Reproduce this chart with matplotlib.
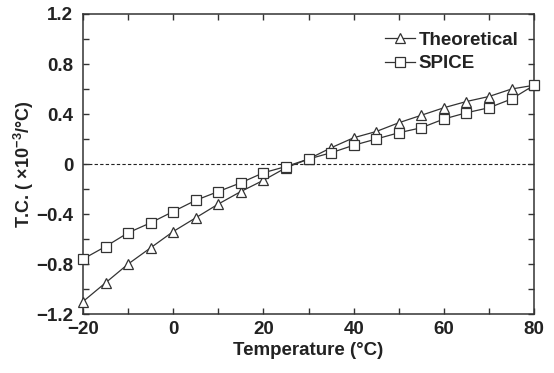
import numpy as np
import matplotlib
matplotlib.use('Agg')
import matplotlib.pyplot as plt
from matplotlib.ticker import MultipleLocator, FuncFormatter

temperature = [-20, -15, -10, -5, 0, 5, 10, 15, 20, 25, 30, 35, 40, 45, 50, 55, 60, 65, 70, 75, 80]
theoretical = [-1.10, -0.95, -0.80, -0.67, -0.54, -0.43, -0.32, -0.22, -0.13, -0.03, 0.04, 0.13,
               0.21, 0.26, 0.33, 0.39, 0.45, 0.50, 0.54, 0.60, 0.63]
spice = [-0.76, -0.66, -0.55, -0.47, -0.38, -0.29, -0.22, -0.15, -0.07, -0.02, 0.04, 0.09,
         0.15, 0.20, 0.25, 0.29, 0.36, 0.41, 0.45, 0.52, 0.63]
xticks = [-20, 0, 20, 40, 60, 80]
yticks = [-1.2, -0.8, -0.4, 0, 0.4, 0.8, 1.2]

plt.rcParams['font.family'] = ['Liberation Sans', 'DejaVu Sans']
plt.rcParams['font.weight'] = 'bold'
plt.rcParams['mathtext.fontset'] = 'custom'
plt.rcParams['mathtext.rm'] = 'Liberation Sans:bold'
plt.rcParams['mathtext.bf'] = 'Liberation Sans:bold'
plt.rcParams['mathtext.it'] = 'Liberation Sans:bold'

txt = '#222222'
ln = '#333333'

fig = plt.figure(figsize=(5.54, 3.73), dpi=100)
ax = fig.add_axes([0.1498, 0.158, 0.8142, 0.8045])

ax.axhline(0, color='#222222', lw=0.8, ls=(0, (3, 2)), zorder=1)
ax.plot(temperature, theoretical, color=ln, lw=0.9, marker='^', ms=7.5,
        mfc='white', mec=ln, mew=0.9, label='Theoretical', zorder=3, clip_on=False)
ax.plot(temperature, spice, color=ln, lw=0.9, marker='s', ms=6.5,
        mfc='white', mec=ln, mew=0.9, label='SPICE', zorder=4, clip_on=False)

ax.set_xlim(-20, 80)
ax.set_ylim(-1.2, 1.2)
ax.set_xticks(xticks)
ax.set_yticks(yticks)
ax.xaxis.set_minor_locator(MultipleLocator(10))
ax.yaxis.set_minor_locator(MultipleLocator(0.2))
ax.yaxis.set_major_formatter(FuncFormatter(
    lambda v, p: '0' if abs(v) < 1e-9 else f'{v:.1f}'.replace('-', '\u2212')))

ax.tick_params(which='both', direction='in', top=True, right=True,
               length=4, width=1, color=ln, labelsize=13.5, labelcolor=txt)
ax.tick_params(axis='x', pad=5)
ax.tick_params(axis='y', pad=7)
for s in ax.spines.values():
    s.set_color(ln)
    s.set_linewidth(1.1)

ax.set_xlabel('Temperature (\u00b0C)', fontsize=13.5, fontweight='bold', color=txt, labelpad=3)
ax.set_ylabel('T.C. ( \u00d710$^{-3}$/\u00b0C)', fontsize=13, fontweight='bold', color=txt, labelpad=0)

leg = ax.legend(loc='upper right', frameon=False, fontsize=13.5, handlelength=1.6,
                handletextpad=0.2, labelspacing=0.35, borderaxespad=0.3,
                bbox_to_anchor=(0.995, 0.985))
for t in leg.get_texts():
    t.set_color(txt)
    t.set_fontweight('bold')

fig.savefig('out.png', dpi=100)
